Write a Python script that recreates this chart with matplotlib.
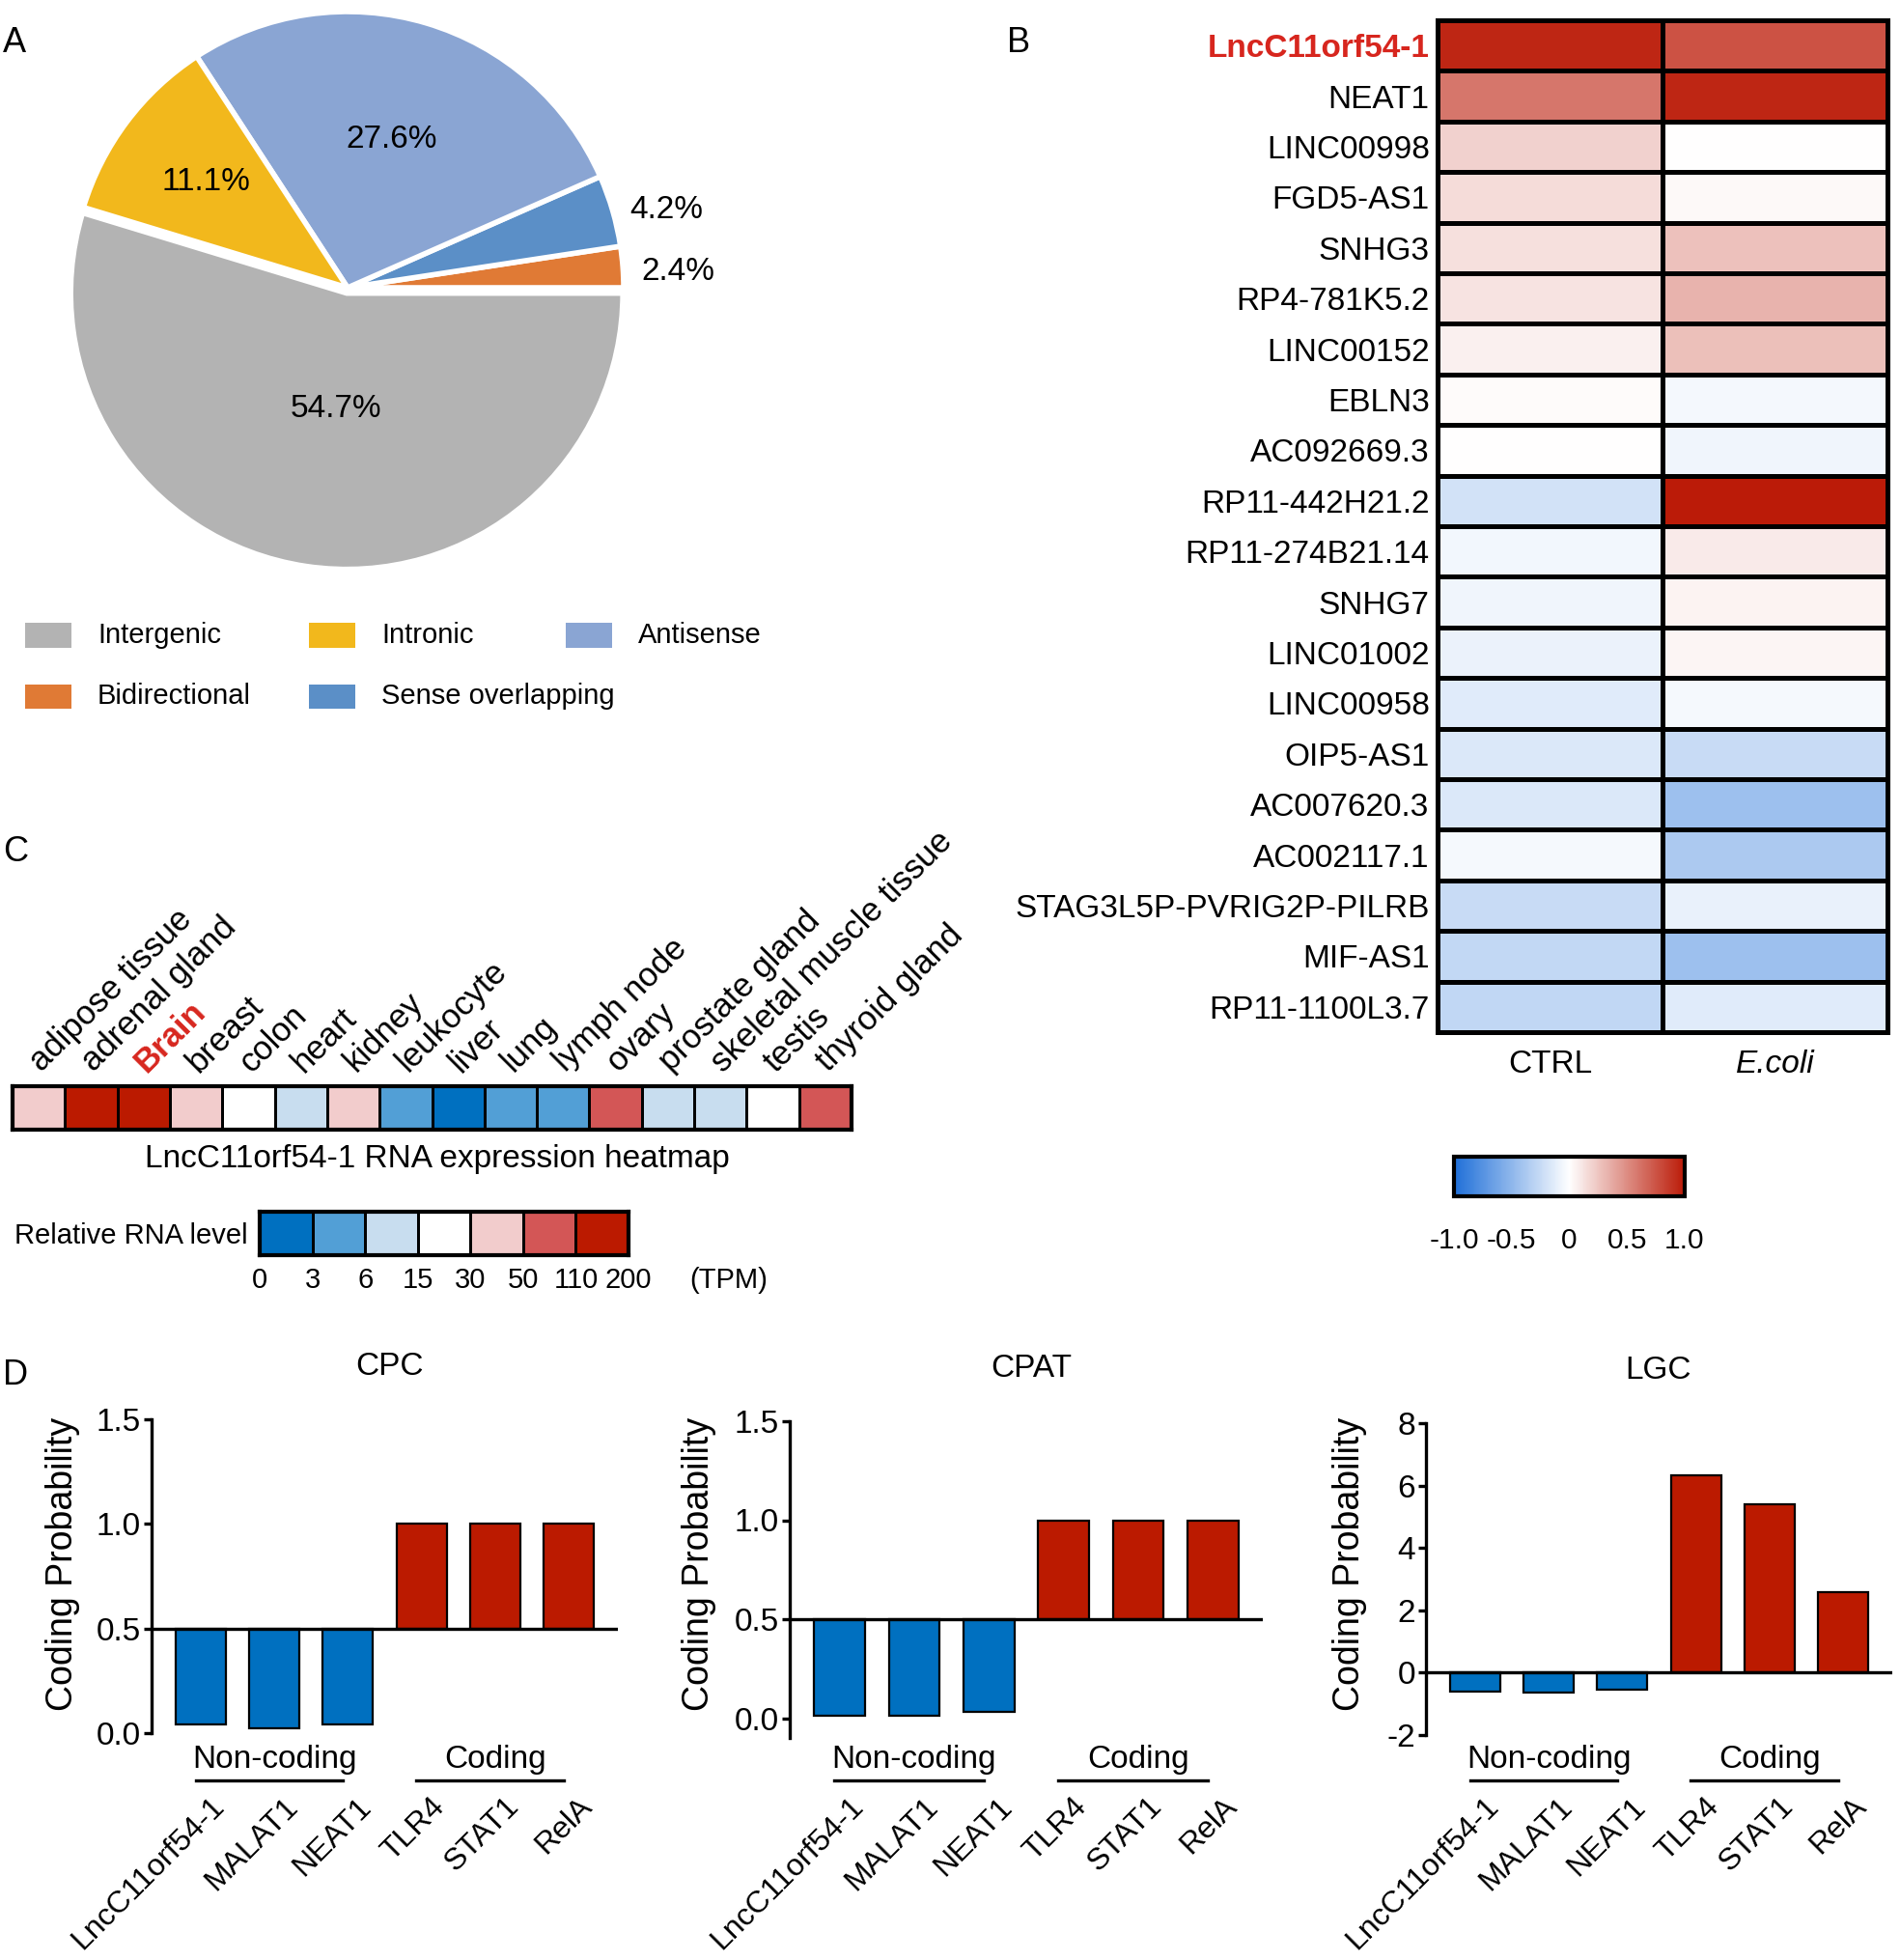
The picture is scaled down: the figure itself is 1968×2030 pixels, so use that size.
import numpy as np
import matplotlib
matplotlib.use('Agg')
import matplotlib.pyplot as plt
from matplotlib.colors import LinearSegmentedColormap, ListedColormap, BoundaryNorm, Normalize
from matplotlib.cm import ScalarMappable
from matplotlib.patches import Rectangle
from matplotlib.transforms import blended_transform_factory

plt.rcParams['font.family'] = ['Liberation Sans', 'DejaVu Sans']

W, H = 1968, 2030

# ---- Panel A: lncRNA classes (counter-clockwise from 3 o'clock)
pie_labels = ['Bidirectional', 'Sense overlapping', 'Antisense', 'Intronic', 'Intergenic']
pie_values = [2.4, 4.2, 27.6, 11.1, 54.7]
pie_colors = ['#e07a35', '#5b8fc7', '#8aa5d3', '#f2b81c', '#b3b3b3']

# ---- Panel B: lncRNA heatmap
lnc_genes = ['LncC11orf54-1', 'NEAT1', 'LINC00998', 'FGD5-AS1', 'SNHG3', 'RP4-781K5.2',
             'LINC00152', 'EBLN3', 'AC092669.3', 'RP11-442H21.2', 'RP11-274B21.14',
             'SNHG7', 'LINC01002', 'LINC00958', 'OIP5-AS1', 'AC007620.3', 'AC002117.1',
             'STAG3L5P-PVRIG2P-PILRB', 'MIF-AS1', 'RP11-1100L3.7']
conditions = ['CTRL', 'E.coli']
ctrl_vals = [0.95, 0.60, 0.20, 0.15, 0.14, 0.12, 0.07, 0.02, 0.00, -0.20,
             -0.06, -0.07, -0.09, -0.14, -0.16, -0.16, -0.04, -0.25, -0.27, -0.28]
ecoli_vals = [0.75, 0.95, 0.00, 0.03, 0.27, 0.33, 0.28, -0.05, -0.07, 1.00,
              0.09, 0.05, 0.04, -0.04, -0.25, -0.43, -0.37, -0.10, -0.43, -0.14]

# ---- Panel C: tissue expression (TPM)
tissues = ['adipose tissue', 'adrenal gland', 'Brain', 'breast', 'colon', 'heart', 'kidney',
           'leukocyte', 'liver', 'lung', 'lymph node', 'ovary', 'prostate gland',
           'skeletal muscle tissue', 'testis', 'thyroid gland']
tissue_tpm = [35, 150, 140, 35, 20, 10, 35, 4, 1, 4, 4, 70, 10, 10, 20, 70]
tpm_bounds = [0, 3, 6, 15, 30, 50, 110, 200]
level_colors = ['#0070c0', '#529fd6', '#c8ddef', '#ffffff', '#f2cccc', '#d35656', '#bb1a00']

# ---- Panel D: coding potential
genes_d = ['LncC11orf54-1', 'MALAT1', 'NEAT1', 'TLR4', 'STAT1', 'RelA']
cpc_vals = [0.04, 0.025, 0.04, 1.0, 1.0, 1.0]
cpat_vals = [0.01, 0.01, 0.03, 1.0, 1.0, 1.0]
lgc_vals = [-0.60, -0.63, -0.55, 6.34, 5.41, 2.59]

RED_TXT = '#d7261e'
BLUE = '#0070c0'
RED = '#bb1a00'

fig = plt.figure(figsize=(W / 100, H / 100), dpi=100)


def px_axes(left, top, right, bottom):
    return fig.add_axes([left / W, 1 - bottom / H, (right - left) / W, (bottom - top) / H])


def ftext(x, y, s, **kw):
    return fig.text(x / W, 1 - y / H, s, **kw)


# panel letters
for letter, (lx, ly) in zip('ABCD', [(3, 45), (1043, 45), (3, 882), (3, 1424)]):
    ftext(lx, ly, letter, fontsize=26, ha='left', va='center')

# ---------------- A
cx, cy, r = 360, 298, 286
axa = px_axes(cx - 1.05 * r, cy - 1.05 * r, cx + 1.05 * r, cy + 1.05 * r)
wedges, _ = axa.pie(pie_values, colors=pie_colors, startangle=0, counterclock=True,
                    explode=[0, 0, 0, 0, 0.02],
                    wedgeprops=dict(edgecolor='white', linewidth=4))
axa.set_xlim(-1.05, 1.05)
axa.set_ylim(-1.05, 1.05)
axa.set_aspect('equal')
axa.axis('off')
label_dist = [1.2, 1.19, 0.56, 0.64, 0.42]
label_turn = [-1.5, -2.5, 0, 0, 3]
for w, v, d, t in zip(wedges, pie_values, label_dist, label_turn):
    ang = np.deg2rad((w.theta1 + w.theta2) / 2 + t)
    ox, oy = w.center
    axa.text(ox + d * np.cos(ang), oy + d * np.sin(ang), f'{v}%', fontsize=24,
             ha='center', va='center')

# legend (manual layout)
leg_items = [('Intergenic', 0, 0), ('Intronic', 1, 0), ('Antisense', 2, 0),
             ('Bidirectional', 0, 1), ('Sense overlapping', 1, 1)]
col_x = [26, 320, 586]
row_y = [658, 721]
for name, c, rr in leg_items:
    color = pie_colors[pie_labels.index(name)]
    x0, yc = col_x[c], row_y[rr]
    fig.patches.append(Rectangle((x0 / W, 1 - (yc + 12.5) / H), 48 / W, 25 / H,
                                 transform=fig.transFigure, facecolor=color, edgecolor='none'))
    ftext(x0 + 75, yc, name, fontsize=21, ha='left', va='center')

# ---------------- B
cmap = LinearSegmentedColormap.from_list('bwr_custom', ['#1f6fd8', '#ffffff', '#bb1b08'])
axb = px_axes(1489, 21, 1955, 1069)
data_b = np.column_stack([ctrl_vals, ecoli_vals])
axb.pcolormesh(data_b, cmap=cmap, vmin=-1, vmax=1, edgecolors='black', linewidth=2.2)
axb.set_xlim(0, 2)
axb.set_ylim(len(lnc_genes), 0)
axb.set_yticks(np.arange(len(lnc_genes)) + 0.5)
axb.set_yticklabels(lnc_genes, fontsize=24)
axb.set_xticks([0.5, 1.5])
axb.set_xticklabels(conditions, fontsize=24)
axb.tick_params(axis='y', length=0, pad=6)
axb.tick_params(axis='x', length=0, pad=13)
for s in axb.spines.values():
    s.set_linewidth(3.6)
lbl0 = axb.get_yticklabels()[0]
lbl0.set_color(RED_TXT)
lbl0.set_fontweight('bold')
axb.get_xticklabels()[1].set_style('italic')

cax = px_axes(1506, 1198, 1745, 1239)
cb = fig.colorbar(ScalarMappable(norm=Normalize(-1, 1), cmap=cmap), cax=cax,
                  orientation='horizontal')
cb.set_ticks([-1, -0.5, 0, 0.5, 1])
cb.set_ticklabels(['-1.0', '-0.5', '0', '0.5', '1.0'])
cb.outline.set_linewidth(3)
cax.tick_params(length=0, labelsize=21.5, pad=23)

# ---------------- C
cmap_c = ListedColormap(level_colors)
norm_c = BoundaryNorm(tpm_bounds, cmap_c.N)
axc = px_axes(13, 1125, 882, 1170)
axc.pcolormesh(np.array([tissue_tpm]), cmap=cmap_c, norm=norm_c,
               edgecolors='black', linewidth=2)
axc.set_xlim(0, len(tissues))
axc.set_ylim(0, 1)
axc.set_xticks([])
axc.set_yticks([])
for s in axc.spines.values():
    s.set_linewidth(3)
for i, t in enumerate(tissues):
    is_brain = t == 'Brain'
    axc.text(i + 0.55, 1.3, t, rotation=45, rotation_mode='anchor', ha='left',
             va='baseline', fontsize=25, color=RED_TXT if is_brain else 'black',
             fontweight='bold' if is_brain else 'normal')
ftext(453, 1200, 'LncC11orf54-1 RNA expression heatmap', fontsize=24, ha='center', va='center')

ftext(15, 1280, 'Relative RNA level', fontsize=21, ha='left', va='center')
axs = px_axes(269, 1255, 651, 1300)
mids = [(a + b) / 2 for a, b in zip(tpm_bounds[:-1], tpm_bounds[1:])]
axs.pcolormesh(np.arange(len(tpm_bounds)), [0, 1], np.array([mids]), cmap=cmap_c,
               norm=norm_c, edgecolors='black', linewidth=2)
axs.set_xlim(0, len(mids))
axs.set_ylim(0, 1)
axs.set_yticks([])
axs.set_xticks(np.arange(len(tpm_bounds)))
axs.set_xticklabels([str(b) for b in tpm_bounds], fontsize=21)
axs.tick_params(axis='x', length=0, pad=9)
for s in axs.spines.values():
    s.set_linewidth(3)
ftext(755, 1326, '(TPM)', fontsize=21, ha='center', va='center')


# ---------------- D
def bar_panel(box, title, title_xy, ylab_xy, vals, base, ylim, yticks, yticklabels):
    ax = px_axes(*box)
    x = np.arange(len(genes_d))
    vals = np.array(vals)
    colors = [BLUE if v < base else RED for v in vals]
    ax.bar(x, vals - base, bottom=base, width=0.68, color=colors,
           edgecolor='black', linewidth=1.6, zorder=2)
    ax.axhline(base, color='black', lw=2.4, zorder=3)
    ax.set_xlim(-0.667, 5.667)
    ax.set_ylim(*ylim)
    for s in ['top', 'right', 'bottom']:
        ax.spines[s].set_visible(False)
    ax.spines['left'].set_linewidth(2.4)
    ax.set_xticks([])
    ax.set_yticks(yticks)
    ax.set_yticklabels(yticklabels, fontsize=24)
    ax.tick_params(axis='y', length=6, width=2.4, pad=2)
    ftext(title_xy[0], title_xy[1], title, fontsize=24, ha='center', va='center')
    ftext(ylab_xy[0], ylab_xy[1], 'Coding Probability', fontsize=27, rotation=90,
          ha='center', va='center')
    tr = blended_transform_factory(ax.transData, fig.transFigure)
    for i, g in enumerate(genes_d):
        ax.text(i + 0.12, 1 - 1856 / H, g, transform=tr, rotation=45,
                rotation_mode='anchor', ha='right', va='top', fontsize=23)
    for name, idx in [('Non-coding', [0, 1, 2]), ('Coding', [3, 4, 5])]:
        ax.text(np.mean(idx), 1 - 1822 / H, name, transform=tr, ha='center',
                va='center', fontsize=24)
        ax.plot([idx[0] - 0.07, idx[-1] - 0.07], [1 - 1844 / H] * 2, transform=tr,
                color='black', lw=2.4, clip_on=False)
    return ax


bar_panel((157, 1470, 640, 1795), 'CPC', (403, 1415), (65, 1620), cpc_vals, 0.5,
          (0, 1.5), [0, 0.5, 1.0, 1.5], ['0.0', '0.5', '1.0', '1.5'])
bar_panel((818, 1472, 1308, 1800), 'CPAT', (1068, 1418), (724, 1620), cpat_vals, 0.5,
          (-0.1, 1.5), [0, 0.5, 1.0, 1.5], ['0.0', '0.5', '1.0', '1.5'])
bar_panel((1477, 1474, 1960, 1797), 'LGC', (1717, 1420), (1398, 1620), lgc_vals, 0,
          (-2, 8), [-2, 0, 2, 4, 6, 8], ['-2', '0', '2', '4', '6', '8'])

fig.savefig('out.png', dpi=100)
